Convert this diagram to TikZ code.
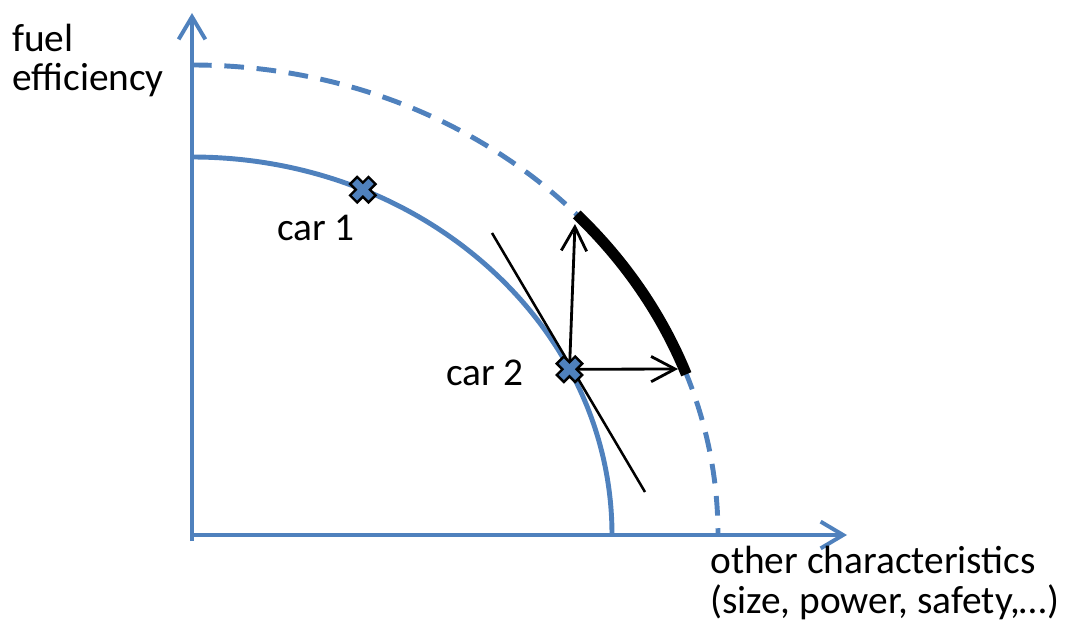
\documentclass[tikz,border=0pt]{standalone}
\usepackage{fontspec}
\setmainfont{Carlito}
\usepackage{tikz}
\usetikzlibrary{arrows.meta,calc}

\definecolor{curveblue}{RGB}{79,129,189}

\begin{document}
\begin{tikzpicture}[
    x=0.025cm, y=0.025cm,
    % Blue axes with open barbed tips
    axis/.style={
        draw=curveblue,
        line width=2.8pt,
        -{Straight Barb[length=16pt, width=19pt]}
    },
    % Present frontier (solid) and improved frontier (dashed)
    frontier/.style={
        draw=curveblue,
        line width=3.5pt
    },
    newfrontier/.style={
        draw=curveblue,
        line width=3.5pt,
        dash pattern=on 14pt off 9pt
    },
    % Thin black arrows out of car 2
    move/.style={
        draw=black,
        line width=2pt,
        -{Straight Barb[length=17pt, width=18pt]}
    },
    tangent/.style={
        draw=black,
        line width=1.8pt
    },
    % Thick black stretch of the new frontier
    gain/.style={
        draw=black,
        line width=7.8pt
    },
    txt/.style={
        font=\fontsize{28}{28}\selectfont,
        text=black,
        inner sep=0pt
    },
    % Blue cross with black outline
    carmark/.pic={
        \filldraw[fill=curveblue, draw=black, line width=1.7pt, rotate=45]
            (5,13) -- (-5,13) -- (-5,5) -- (-13,5) -- (-13,-5) -- (-5,-5)
            -- (-5,-13) -- (5,-13) -- (5,-5) -- (13,-5) -- (13,5) -- (5,5) -- cycle;
    }
]

\useasboundingbox (0,0) rectangle (1078,627);

% --- Axes ---
\coordinate (O) at (192,92);
\coordinate (ybottom) at (192,86);
\coordinate (ytop) at (192,614);
\coordinate (xend) at (847,92);
\draw[axis] (ybottom) -- (ytop);
\draw[axis] (O) -- (xend);

\node[txt, anchor=base west, align=left] (ylabel) at (12,536) {fuel\\efficiency};
\node[txt, anchor=base west, align=left] (xlabel) at (710,14) {other characteristics\\(size, power, safety,…)};

% --- Frontiers ---
\coordinate (innertop) at (192,470);
\coordinate (outertop) at (192,562);
\draw[frontier] (innertop) arc[start angle=90, end angle=0, x radius=420, y radius=378];
\draw[newfrontier] (outertop) arc[start angle=90, end angle=0, x radius=526, y radius=470];

\coordinate (gainstart) at ($(O)+({526*cos(43)},{470*sin(43)})$);
\draw[gain] (gainstart) arc[start angle=43, end angle=20, x radius=526, y radius=470];

% --- Cars on the present frontier ---
\coordinate (car1) at ($(O)+({420*cos(66)},{378*sin(66)})$);
\coordinate (car2) at ($(O)+({420*cos(26)},{378*sin(26)})$);

\coordinate (tan1) at (492,394);
\coordinate (tan2) at (645,135);
\draw[tangent] (tan1) -- (tan2);

\coordinate (up) at (575,403);
\coordinate (right) at (678,258);
\draw[move] (car2) -- (up);
\draw[move] (car2) -- (right);

\pic at (car1) {carmark};
\pic at (car2) {carmark};

\node[txt, anchor=base] (car1label) at (316,387) {car 1};
\node[txt, anchor=base] (car2label) at (485,242) {car 2};

\end{tikzpicture}
\end{document}
